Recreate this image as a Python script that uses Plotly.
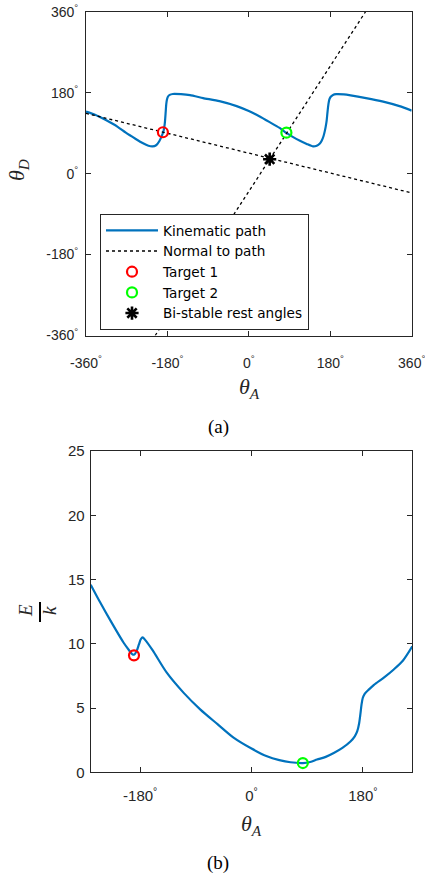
import plotly.graph_objects as go

# ---------------- data ----------------
# (a) kinematic path
path_theta_A = [-360, -340, -316, -290, -272, -250, -235, -222, -213, -205, -198, -192, -189,
                -187, -185.5, -184, -182.5, -181, -179, -175, -168, -150, -130, -101, -65, -27,
                0, 24, 45, 68, 83, 98, 113, 128, 142, 150, 157, 161, 165, 168, 170, 172, 174,
                176, 178, 181, 186, 193, 210, 225, 259, 297, 333, 360]
path_theta_D = [138, 131, 119, 104, 91, 77, 68, 62, 60.5, 63, 72, 85, 93,
                103, 115, 135, 155, 165, 171, 175, 177, 176.5, 174.5, 168, 161, 150,
                139, 127, 115, 101.5, 90.5, 81, 73, 66, 60.5, 62, 67, 73, 83, 95, 105, 118, 138,
                155, 165, 171, 175, 176.5, 176, 174, 168, 160, 150, 140]

# normals to path (two straight lines, endpoints on the axes box)
normal1_theta_A = [-360, 360]
normal1_theta_D = [134, -43]
normal2_theta_A = [-207, 258]
normal2_theta_D = [-360, 360]

# targets and rest angles
target1_theta_A = [-190]
target1_theta_D = [92]
target1_E = [9.1]
target2_theta_A = [83]
target2_theta_D = [91]
target2_E = [0.72]
rest_theta_A = [46]
rest_theta_D = [32]

# (b) energy along the path
energy_theta_A = [-260, -245, -228, -207, -198, -193, -190, -186, -182, -179, -176, -172, -160,
                  -137, -110, -83, -55, -29, 0, 25, 45, 63, 83, 95, 106, 120, 133, 147, 160,
                  167, 171, 174, 176, 178, 180, 183, 190, 198, 215, 230, 245, 260]
energy_E = [14.6, 13.25, 11.8, 10.1, 9.5, 9.2, 9.15, 9.4, 9.95, 10.35, 10.5, 10.3, 9.5,
            7.75, 6.2, 4.9, 3.75, 2.7, 1.85, 1.25, 0.95, 0.78, 0.72, 0.8, 0.99, 1.2, 1.5, 1.9, 2.4,
            2.8, 3.2, 3.8, 4.5, 5.3, 5.8, 6.1, 6.45, 6.8, 7.4, 8.0, 8.7, 9.8]

# ticks
top_ticks = [-360, -180, 0, 180, 360]
top_tick_labels = ["-360", "-180", "0", "180", "360"]
bot_xticks = [-180, 0, 180]
bot_xtick_labels = ["-180", "0", "180"]
bot_yticks = [0, 5, 10, 15, 20, 25]

# ---------------- style ----------------
BLUE = "#0072BD"
AX = "#262626"
SANS = "Liberation Sans, Arial, sans-serif"
SERIF = "Liberation Serif, Times New Roman, serif"
W, H = 425, 880

def deg(labels):
    return [f"{t}<sup>°</sup>" for t in labels]

def px2paper(px, py):
    return px / W, 1 - py / H

def xdom(a, b):
    return [a / W, b / W]

def ydom(top, bottom):
    return [1 - bottom / H, 1 - top / H]

fig = go.Figure()

# ---- (a) ----
fig.add_trace(go.Scatter(x=path_theta_A, y=path_theta_D, mode="lines",
                         line=dict(color=BLUE, width=2.2, shape="spline", smoothing=0.6),
                         name="Kinematic path",
                         xaxis="x", yaxis="y", legendgroup="g1"))
fig.add_trace(go.Scatter(x=normal1_theta_A + [None] + normal2_theta_A,
                         y=normal1_theta_D + [None] + normal2_theta_D,
                         mode="lines", connectgaps=False,
                         line=dict(color="black", width=1.3, dash="dot"),
                         name="Normal to path", xaxis="x", yaxis="y", legendgroup="g2"))
fig.add_trace(go.Scatter(x=target1_theta_A, y=target1_theta_D, mode="markers",
                         marker=dict(symbol="circle-open", size=10, color="#FF0000",
                                     line=dict(width=2.2, color="#FF0000")),
                         name="Target 1", xaxis="x", yaxis="y", legendgroup="g3"))
fig.add_trace(go.Scatter(x=target2_theta_A, y=target2_theta_D, mode="markers",
                         marker=dict(symbol="circle-open", size=10, color="#00FF00",
                                     line=dict(width=2.2, color="#00FF00")),
                         name="Target 2", xaxis="x", yaxis="y", legendgroup="g4"))
fig.add_trace(go.Scatter(x=rest_theta_A, y=rest_theta_D, mode="markers",
                         marker=dict(symbol="asterisk-open", size=11, color="black",
                                     line=dict(width=2.6, color="black")),
                         name="Bi-stable rest angles", xaxis="x", yaxis="y", legendgroup="g5"))

# ---- (b) ----
fig.add_trace(go.Scatter(x=energy_theta_A, y=energy_E, mode="lines",
                         line=dict(color=BLUE, width=2.2, shape="spline", smoothing=0.8),
                         showlegend=False, xaxis="x2", yaxis="y2"))
fig.add_trace(go.Scatter(x=target1_theta_A, y=target1_E, mode="markers",
                         marker=dict(symbol="circle-open", size=10, color="#FF0000",
                                     line=dict(width=2.2, color="#FF0000")),
                         showlegend=False, xaxis="x2", yaxis="y2"))
fig.add_trace(go.Scatter(x=target2_theta_A, y=target2_E, mode="markers",
                         marker=dict(symbol="circle-open", size=10, color="#00FF00",
                                     line=dict(width=2.2, color="#00FF00")),
                         showlegend=False, xaxis="x2", yaxis="y2"))

axis_common = dict(showline=True, linecolor=AX, linewidth=1, mirror="ticks",
                   ticks="inside", ticklen=5, tickwidth=1, tickcolor=AX,
                   showgrid=False, zeroline=False, tickmode="array",
                   fixedrange=True, automargin=False, ticklabeloverflow="allow")

lx, ly = px2paper(100, 214)
fig.update_layout(
    width=W, height=H, autosize=False,
    margin=dict(l=0, r=0, t=0, b=0, autoexpand=False),
    paper_bgcolor="white", plot_bgcolor="white",
    font=dict(family=SANS, color=AX),
    xaxis=dict(domain=xdom(86, 411.7), anchor="y", range=[-360, 360],
               tickvals=top_ticks, ticktext=deg(top_tick_labels),
               tickfont=dict(size=14, family=SANS, color=AX), ticklabelstandoff=15,
               **axis_common),
    yaxis=dict(domain=ydom(11.7, 335.5), anchor="x", range=[-360, 360],
               tickvals=top_ticks, ticktext=deg(top_tick_labels),
               tickfont=dict(size=14, family=SANS, color=AX), ticklabelstandoff=4,
               **axis_common),
    xaxis2=dict(domain=xdom(90.7, 412.3), anchor="y2", range=[-260, 260],
                tickvals=bot_xticks, ticktext=deg(bot_xtick_labels),
                tickfont=dict(size=15, family=SANS, color=AX), ticklabelstandoff=10,
                **axis_common),
    yaxis2=dict(domain=ydom(451, 772.3), anchor="x2", range=[0, 25],
                tickvals=bot_yticks, ticktext=[str(v) for v in bot_yticks],
                tickfont=dict(size=15, family=SANS, color=AX), ticklabelstandoff=2,
                **axis_common),
    legend=dict(x=lx, y=ly, xanchor="left", yanchor="top",
                bgcolor="white", bordercolor=AX, borderwidth=1,
                font=dict(size=13.6, family="DejaVu Sans, sans-serif", color="black"),
                itemwidth=52, tracegroupgap=0, traceorder="normal"),
    showlegend=True,
)

annots = []
x, y = px2paper(249, 388)
annots.append(dict(text="<i>θ</i><sub><i>A</i></sub>", x=x, y=y, showarrow=False,
                   xanchor="center", yanchor="middle",
                   font=dict(family=SERIF, size=22, color=AX)))
x, y = px2paper(18, 170)
annots.append(dict(text="<i>θ</i><sub><i>D</i></sub>", x=x, y=y, showarrow=False,
                   xanchor="center", yanchor="middle", textangle=-90,
                   font=dict(family=SERIF, size=22, color=AX)))
x, y = px2paper(251, 825)
annots.append(dict(text="<i>θ</i><sub><i>A</i></sub>", x=x, y=y, showarrow=False,
                   xanchor="center", yanchor="middle",
                   font=dict(family=SERIF, size=22, color=AX)))
x, y = px2paper(25, 611)
annots.append(dict(text="<i>E</i>", x=x, y=y, showarrow=False, xanchor="center",
                   yanchor="middle", textangle=-90,
                   font=dict(family=SERIF, size=19, color=AX)))
x, y = px2paper(49, 611)
annots.append(dict(text="<i>k</i>", x=x, y=y, showarrow=False, xanchor="center",
                   yanchor="middle", textangle=-90,
                   font=dict(family=SERIF, size=19, color=AX)))
x, y = px2paper(218, 427)
annots.append(dict(text="(a)", x=x, y=y, showarrow=False, xanchor="center",
                   yanchor="middle", font=dict(family=SERIF, size=19, color="black")))
x, y = px2paper(218, 863)
annots.append(dict(text="(b)", x=x, y=y, showarrow=False, xanchor="center",
                   yanchor="middle", font=dict(family=SERIF, size=19, color="black")))
for a in annots:
    a.update(xref="paper", yref="paper")
fig.update_layout(annotations=annots)

bx0, by0 = px2paper(40, 602)
bx1, by1 = px2paper(40, 622)
fig.add_shape(type="line", xref="paper", yref="paper", x0=bx0, y0=by0, x1=bx1, y1=by1,
              line=dict(color="black", width=2))

fig.write_html("out.html", config={"displayModeBar": False},
               post_script="document.body.style.margin='0px';"
                           "document.body.style.overflow='hidden';")
